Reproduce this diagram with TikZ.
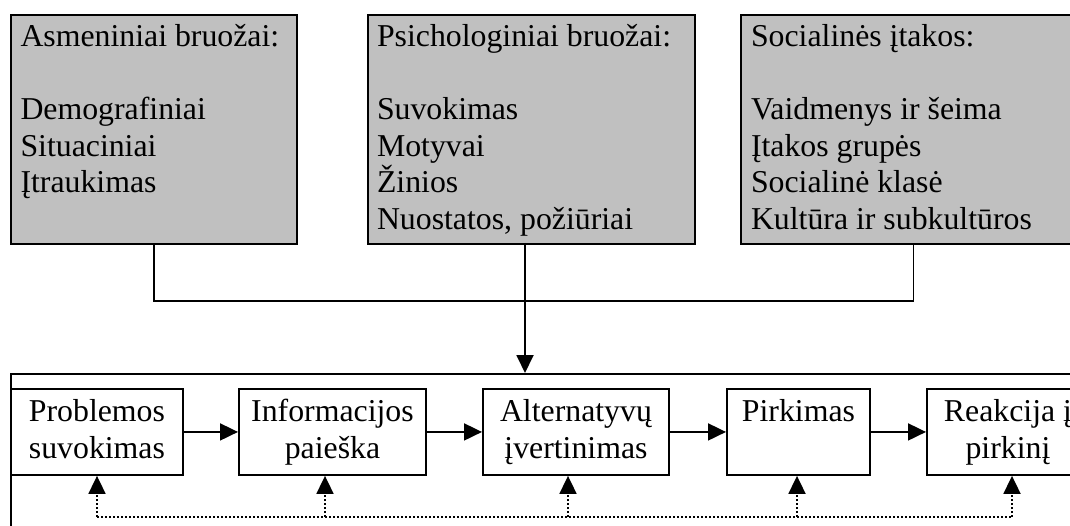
\documentclass[tikz,border=0pt]{standalone}
\usepackage{fontspec}
\setmainfont{Liberation Serif}
\usetikzlibrary{arrows.meta}
\definecolor{boxgray}{RGB}{192,192,192}
\begin{document}
\begin{tikzpicture}[x=1pt,y=-1pt,
  txt/.style={font=\fontsize{31.8}{36.5}\selectfont, inner sep=0pt, outer sep=0pt},
  factorbox/.style={draw=black, line width=1.9pt, fill=boxgray, anchor=north west, inner sep=0pt},
  stepbox/.style={draw=black, line width=1.9pt, fill=white, inner sep=0pt, anchor=north west,
                  minimum height=86pt},
  bus/.style={line width=1.5pt},
  arr/.style={line width=1.9pt, -{Triangle[length=18pt,width=17pt]}},
  fb/.style={line width=1.8pt, dash pattern=on 1.8pt off 2.2pt},
  fbarr/.style={fb, -{Triangle[length=18pt,width=17pt]}}]
\useasboundingbox (0,0) rectangle (1070,526);
\clip (0,0) rectangle (1070,526);
\fill[white] (0,0) rectangle (1070,526);

% influence factors
\node[factorbox, minimum width=286pt, minimum height=229pt] (A) at (10,14) {};
\node[factorbox, minimum width=327pt, minimum height=229pt] (B) at (367,14) {};
\node[factorbox, minimum width=345pt, minimum height=229pt] (C) at (740,14) {};

\node[txt, anchor=base west] (At) at (20.5,47) {\parbox[t]{300pt}{\raggedright
  Asmeniniai bruožai:\\[36.5pt]Demografiniai\\Situaciniai\\Įtraukimas}};
\node[txt, anchor=base west] (Bt) at (377,47) {\parbox[t]{320pt}{\raggedright
  Psichologiniai bruožai:\\[36.5pt]Suvokimas\\Motyvai\\Žinios\\Nuostatos, požiūriai}};
\node[txt, anchor=base west] (Ct) at (751,47) {\parbox[t]{320pt}{\raggedright
  Socialinės įtakos:\\[36.5pt]Vaidmenys ir šeima\\Įtakos grupės\\Socialinė klasė\\Kultūra ir subkultūros}};

% decision process frame
\node[draw=black, line width=1.9pt, anchor=north west, inner sep=0pt,
      minimum width=1080pt, minimum height=200pt] (P) at (10,373) {};

% joining the factors
\coordinate (bus) at (525,301);
\coordinate (Bdrop) at (525,243);
\draw[bus] (A.south) |- (bus -| C.south) -- (C.south);
\draw[arr] (Bdrop) -- (Bdrop |- P.north);

% process steps
\node[stepbox, minimum width=172pt] (s1) at (10,388) {};
\node[stepbox, minimum width=187pt] (s2) at (238,388) {};
\node[stepbox, minimum width=186pt] (s3) at (482,388) {};
\node[stepbox, minimum width=143pt] (s4) at (726,388) {};
\node[stepbox, minimum width=162pt] (s5) at (926,388) {};

\node[txt, anchor=base] (t1) at (s1.north |- 0,421.5) {\parbox[t]{200pt}{\centering Problemos\\suvokimas}};
\node[txt, anchor=base] (t2) at (s2.north |- 0,421.5) {\parbox[t]{200pt}{\centering Informacijos\\paieška}};
\node[txt, anchor=base] (t3) at (s3.north |- 0,421.5) {\parbox[t]{200pt}{\centering Alternatyvų\\įvertinimas}};
\node[txt, anchor=base] (t4) at (s4.north |- 0,421.5) {\parbox[t]{200pt}{\centering Pirkimas}};
\node[txt, anchor=base] (t5) at (s5.north |- 0,421.5) {\parbox[t]{200pt}{\centering Reakcija į\\pirkinį}};

\draw[arr] (s1.east) -- (s2.west);
\draw[arr] (s2.east) -- (s3.west);
\draw[arr] (s3.east) -- (s4.west);
\draw[arr] (s4.east) -- (s5.west);

% feedback loop
\coordinate (f1) at (97,517);
\coordinate (f2) at (325,517);
\coordinate (f3) at (568,517);
\coordinate (f4) at (797,517);
\coordinate (f5) at (1012,517);
\draw[fb] (f1) -- (f5);
\draw[fbarr] (f1) -- (f1 |- s1.south);
\draw[fbarr] (f2) -- (f2 |- s2.south);
\draw[fbarr] (f3) -- (f3 |- s3.south);
\draw[fbarr] (f4) -- (f4 |- s4.south);
\draw[fbarr] (f5) -- (f5 |- s5.south);
\end{tikzpicture}
\end{document}
